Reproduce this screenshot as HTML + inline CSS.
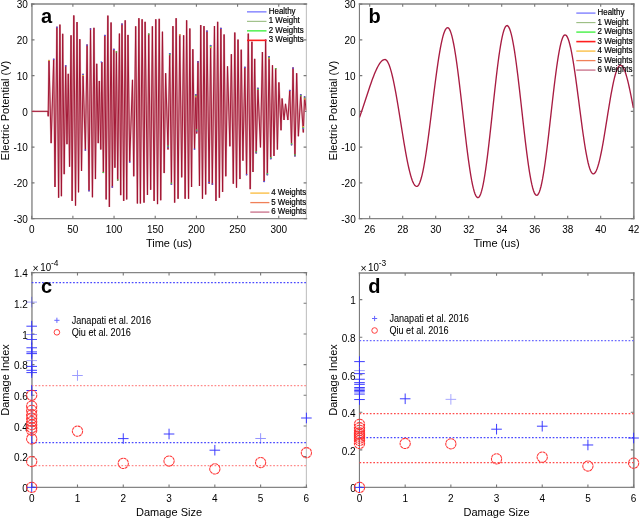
<!DOCTYPE html>
<html><head><meta charset="utf-8"><style>html,body{margin:0;padding:0;background:#fff;width:640px;height:519px;overflow:hidden}svg{display:block;will-change:transform}#w{width:640px;height:519px;}</style></head><body><div id="w">
<svg width="640" height="519" viewBox="0 0 640 519">
<style>text{font-family:"Liberation Sans", sans-serif;fill:#000} .tk{font-size:10px} .lb{font-size:11px} .pl{font-size:20px;font-weight:bold;fill:#000} .lg{font-size:7.9px;stroke:#000;stroke-width:0.18px} .lg2{font-size:9.1px;stroke:#000;stroke-width:0.05px}</style>
<rect width="640" height="519" fill="#fff"/>
<clipPath id="ca"><rect x="31.7" y="4.05" width="274.7" height="214.55"/></clipPath>
<path d="M31.95 3.25V219.3" fill="none" stroke="#9c9c9c" stroke-width="1.7"/>
<path d="M306.4 3.45V219.2" fill="none" stroke="#c4c4c4" stroke-width="1.15"/>
<path d="M30.9 4.05H307.2M30.9 218.6H307.2" fill="none" stroke="#858585" stroke-width="1.4"/>
<path d="M31.7 218.6V215.8M31.7 4.05V6.85M72.88 218.6V215.8M72.88 4.05V6.85M114.05 218.6V215.8M114.05 4.05V6.85M155.22 218.6V215.8M155.22 4.05V6.85M196.4 218.6V215.8M196.4 4.05V6.85M237.57 218.6V215.8M237.57 4.05V6.85M278.75 218.6V215.8M278.75 4.05V6.85" stroke="#777" stroke-width="1.1" fill="none"/>
<text x="31.7" y="232.6" text-anchor="middle" class="tk">0</text>
<text x="72.88" y="232.6" text-anchor="middle" class="tk">50</text>
<text x="114.05" y="232.6" text-anchor="middle" class="tk">100</text>
<text x="155.22" y="232.6" text-anchor="middle" class="tk">150</text>
<text x="196.4" y="232.6" text-anchor="middle" class="tk">200</text>
<text x="237.57" y="232.6" text-anchor="middle" class="tk">250</text>
<text x="278.75" y="232.6" text-anchor="middle" class="tk">300</text>
<path d="M31.7 4.1H34.5M306.4 4.1H303.6M31.7 39.85H34.5M306.4 39.85H303.6M31.7 75.6H34.5M306.4 75.6H303.6M31.7 111.35H34.5M306.4 111.35H303.6M31.7 147.1H34.5M306.4 147.1H303.6M31.7 182.85H34.5M306.4 182.85H303.6M31.7 218.6H34.5M306.4 218.6H303.6" stroke="#777" stroke-width="1.1" fill="none"/>
<text x="27.9" y="8.3" text-anchor="end" class="tk">30</text>
<text x="27.9" y="44.05" text-anchor="end" class="tk">20</text>
<text x="27.9" y="79.8" text-anchor="end" class="tk">10</text>
<text x="27.9" y="115.55" text-anchor="end" class="tk">0</text>
<text x="27.9" y="151.3" text-anchor="end" class="tk">-10</text>
<text x="27.9" y="187.05" text-anchor="end" class="tk">-20</text>
<text x="27.9" y="222.8" text-anchor="end" class="tk">-30</text>
<path d="M31.7 111.35 L48 111.35 L48.2 116.3 L48.99 59.94 L51.13 143.11 L53.7 58.87 L54.98 186.99 L56.91 26.76 L58.62 197.7 L59.91 24.62 L61.41 196.2 L62.69 33.82 L64.19 174.15 L65.69 65.29 L66.97 144.18 L68.26 73.85 L69.54 166.66 L71.04 35.32 L72.11 200.91 L73.82 15.41 L75.53 205.62 L77.03 22.05 L78.53 192.34 L79.82 39.17 L81.53 170.94 L83.03 73.85 L85.38 150.6 L87.09 44.53 L89.02 191.27 L90.52 28.26 L92.45 197.27 L93.94 27.83 L95.44 179.07 L96.73 63.79 L98.22 143.11 L99.3 80.92 L100.79 149.53 L101.86 62.08 L103.36 173.08 L104.86 34.89 L106.15 199.41 L107.86 15.63 L109.36 206.9 L111.07 22.48 L112.35 187.63 L113.85 48.81 L114.92 167.73 L116.42 51.38 L117.7 180.57 L119.42 33.61 L120.7 195.13 L121.99 23.55 L123.7 200.91 L125.2 20.34 L126.7 199.41 L127.98 34.89 L129.69 162.38 L132.48 79.85 L133.76 176.29 L135.69 26.33 L137.4 203.48 L138.9 18.2 L140.4 203.48 L142.11 19.27 L144.03 202.62 L145.1 21.83 L147.46 194.91 L148.74 33.61 L150.67 189.78 L152.38 26.33 L154.1 200.91 L155.81 19.27 L157.52 204.12 L159.23 18.84 L160.73 200.26 L162.44 31.68 L164.16 173.08 L165.65 73.21 L168.01 149.53 L169.72 53.09 L171.43 184.85 L172.93 26.12 L174.65 202.62 L176.14 18.2 L178.07 198.77 L179.78 34.25 L181.71 177.36 L183.64 35.32 L185.13 198.77 L186.63 20.34 L188.56 198.77 L189.84 28.47 L191.56 186.99 L192.84 49.23 L194.55 149.53 L195.84 94.19 L196.69 133.48 L197.98 61.01 L199.48 185.92 L200.76 25.05 L202.47 198.77 L203.97 26.12 L205.68 194.48 L206.97 30.61 L209.11 183.78 L210.61 44.95 L212.32 184.85 L214.46 26.12 L215.96 200.91 L217.67 21.83 L219.38 197.7 L220.88 27.83 L222.6 191.92 L224.09 34.46 L225.81 176.29 L227.52 66.36 L229.87 146.32 L231.37 54.16 L233.3 183.78 L234.8 32.54 L236.51 187.63 L238.01 39.6 L239.93 179.07 L241.22 49.66 L242.93 160.66 L244.86 66.79 L246.57 175.22 L248.28 33.61 L250.21 189.13 L251.92 41.74 L252.99 172.01 L254.7 58.87 L256.2 153.38 L257.92 87.77 L260.48 147.39 L262.41 52.02 L264.12 182.07 L265.62 39.6 L267.33 175.22 L269.05 56.08 L270.76 159.16 L272.47 65.29 L273.97 155.95 L275.68 68.07 L277.4 149.53 L278.89 82.41 L281.03 130.27 L282.1 98.47 L284.03 119.99 L285.53 103.82 L287.88 119.99 L289.81 89.91 L291.52 145.25 L293.02 67.43 L294.95 156.38 L296.66 73.21 L298.37 136.26 L300.73 94.19 L303.3 132.41 L304.58 96.33 L306.2 110.5" fill="none" stroke="#e3aeb6" stroke-width="1.9" stroke-linejoin="miter" stroke-miterlimit="4" clip-path="url(#ca)"/>
<path d="M31.7 111.35 L48 111.35 L48.2 116.3 L48.99 59.94 L51.13 143.11 L53.7 58.87 L54.98 186.99 L56.91 26.76 L58.62 197.7 L59.91 24.62 L61.41 196.2 L62.69 33.82 L64.19 174.15 L65.69 65.29 L66.97 144.18 L68.26 73.85 L69.54 166.66 L71.04 35.32 L72.11 200.91 L73.82 15.41 L75.53 205.62 L77.03 22.05 L78.53 192.34 L79.82 39.17 L81.53 170.94 L83.03 73.85 L85.38 150.6 L87.09 44.53 L89.02 191.27 L90.52 28.26 L92.45 197.27 L93.94 27.83 L95.44 179.07 L96.73 63.79 L98.22 143.11 L99.3 80.92 L100.79 149.53 L101.86 62.08 L103.36 173.08 L104.86 34.89 L106.15 199.41 L107.86 15.63 L109.36 206.9 L111.07 22.48 L112.35 187.63 L113.85 48.81 L114.92 167.73 L116.42 51.38 L117.7 180.57 L119.42 33.61 L120.7 195.13 L121.99 23.55 L123.7 200.91 L125.2 20.34 L126.7 199.41 L127.98 34.89 L129.69 162.38 L132.48 79.85 L133.76 176.29 L135.69 26.33 L137.4 203.48 L138.9 18.2 L140.4 203.48 L142.11 19.27 L144.03 202.62 L145.1 21.83 L147.46 194.91 L148.74 33.61 L150.67 189.78 L152.38 26.33 L154.1 200.91 L155.81 19.27 L157.52 204.12 L159.23 18.84 L160.73 200.26 L162.44 31.68 L164.16 173.08 L165.65 73.21 L168.01 149.53 L169.72 53.09 L171.43 184.85 L172.93 26.12 L174.65 202.62 L176.14 18.2 L178.07 198.77 L179.78 34.25 L181.71 177.36 L183.64 35.32 L185.13 198.77 L186.63 20.34 L188.56 198.77 L189.84 28.47 L191.56 186.99 L192.84 49.23 L194.55 149.53 L195.84 94.19 L196.69 133.48 L197.98 61.01 L199.48 185.92 L200.76 25.05 L202.47 198.77 L203.97 26.12 L205.68 194.48 L206.97 30.61 L209.11 183.78 L210.61 44.95 L212.32 184.85 L214.46 26.12 L215.96 200.91 L217.67 21.83 L219.38 197.7 L220.88 27.83 L222.6 191.92 L224.09 34.46 L225.81 176.29 L227.52 66.36 L229.87 146.32 L231.37 54.16 L233.3 183.78 L234.8 32.54 L236.51 187.63 L238.01 39.6 L239.93 179.07 L241.22 49.66 L242.93 160.66 L244.86 66.79 L246.57 175.22 L248.28 33.61 L250.21 189.13 L251.92 41.74 L252.99 172.01 L254.7 58.87 L256.2 153.38 L257.92 87.77 L260.48 147.39 L262.41 52.02 L264.12 182.07 L265.62 39.6 L267.33 175.22 L269.05 56.08 L270.76 159.16 L272.47 65.29 L273.97 155.95 L275.68 68.07 L277.4 149.53 L278.89 82.41 L281.03 130.27 L282.1 98.47 L284.03 119.99 L285.53 103.82 L287.88 119.99 L289.81 89.91 L291.52 145.25 L293.02 67.43 L294.95 156.38 L296.66 73.21 L298.37 136.26 L300.73 94.19 L303.3 132.41 L304.58 96.33 L306.2 110.5" fill="none" stroke="#a01230" stroke-width="0.95" stroke-linejoin="miter" stroke-miterlimit="4" clip-path="url(#ca)"/>
<rect x="169.05" y="53.1" width="1.5" height="1.1" fill="#4a5cff"/><rect x="169.05" y="54.15" width="1.5" height="1.1" fill="#3ee03e"/><rect x="82.25" y="73.9" width="1.5" height="1.1" fill="#4a5cff"/><rect x="82.25" y="74.95" width="1.5" height="1.1" fill="#e8d040"/><rect x="195.05" y="94.2" width="1.5" height="1.1" fill="#4a5cff"/><rect x="195.05" y="95.25" width="1.5" height="1.1" fill="#3ee03e"/><rect x="195.05" y="96.3" width="1.5" height="1.1" fill="#f0a040"/><rect x="209.85" y="45" width="1.5" height="1.1" fill="#4a5cff"/><rect x="209.85" y="46.05" width="1.5" height="1.1" fill="#3ee03e"/><rect x="209.85" y="47.1" width="1.5" height="1.1" fill="#f0a040"/><rect x="257.25" y="87.8" width="1.5" height="1.1" fill="#4a5cff"/><rect x="257.25" y="88.85" width="1.5" height="1.1" fill="#3ee03e"/><rect x="268.35" y="56.1" width="1.5" height="1.1" fill="#4a5cff"/><rect x="268.35" y="57.15" width="1.5" height="1.1" fill="#3ee03e"/><rect x="268.35" y="58.2" width="1.5" height="1.1" fill="#f0a040"/><rect x="300.05" y="94.2" width="1.5" height="1.1" fill="#4a5cff"/><rect x="300.05" y="95.25" width="1.5" height="1.1" fill="#3ee03e"/><rect x="303.85" y="96.4" width="1.5" height="1.1" fill="#4a5cff"/><rect x="303.85" y="97.45" width="1.5" height="1.1" fill="#3ee03e"/><rect x="303.85" y="98.5" width="1.5" height="1.1" fill="#f0a040"/><rect x="292.35" y="67.5" width="1.5" height="1.1" fill="#4a5cff"/><rect x="289.05" y="89.9" width="1.5" height="1.1" fill="#4a5cff"/><rect x="56.25" y="26.7" width="1.5" height="1.1" fill="#4a5cff"/><rect x="64.95" y="65.3" width="1.5" height="1.1" fill="#4a5cff"/><rect x="89.75" y="28.4" width="1.5" height="1.1" fill="#4a5cff"/><rect x="104.15" y="34.9" width="1.5" height="1.1" fill="#4a5cff"/><rect x="121.25" y="23.6" width="1.5" height="1.1" fill="#4a5cff"/><rect x="100.55" y="61.4" width="1.5" height="1.1" fill="#4a5cff"/><rect x="86.15" y="44.6" width="1.5" height="1.1" fill="#4a5cff"/><rect x="48.25" y="59.9" width="1.5" height="1.1" fill="#e8d040"/><rect x="53" y="58.6" width="1.5" height="1.1" fill="#4a5cff"/><rect x="113.15" y="48.8" width="1.5" height="1.1" fill="#4a5cff"/><rect x="115.65" y="51.4" width="1.5" height="1.1" fill="#3ee03e"/><rect x="148.05" y="33.6" width="1.5" height="1.1" fill="#3ee03e"/><rect x="179.05" y="34.3" width="1.5" height="1.1" fill="#e8d040"/><rect x="197.25" y="61.4" width="1.5" height="1.1" fill="#4a5cff"/><rect x="206.25" y="30.6" width="1.5" height="1.1" fill="#4a5cff"/><rect x="220.25" y="27.9" width="1.5" height="1.1" fill="#4a5cff"/><rect x="244.15" y="66.8" width="1.5" height="1.1" fill="#4a5cff"/><rect x="264.85" y="39.6" width="1.5" height="1.1" fill="#4a5cff"/><rect x="274.95" y="68.1" width="1.5" height="1.1" fill="#3ee03e"/><rect x="167.25" y="146.5" width="1.5" height="1.1" fill="#4a5cff"/><rect x="167.25" y="145.45" width="1.5" height="1.1" fill="#3ee03e"/><rect x="170.65" y="183.7" width="1.5" height="1.1" fill="#4a5cff"/><rect x="170.65" y="182.65" width="1.5" height="1.1" fill="#3ee03e"/><rect x="84.65" y="149.5" width="1.5" height="1.1" fill="#4a5cff"/><rect x="196.05" y="130.4" width="1.5" height="1.1" fill="#4a5cff"/><rect x="196.05" y="129.35" width="1.5" height="1.1" fill="#3ee03e"/><rect x="193.75" y="148.6" width="1.5" height="1.1" fill="#4a5cff"/><rect x="302.55" y="128.1" width="1.5" height="1.1" fill="#4a5cff"/><rect x="302.55" y="127.05" width="1.5" height="1.1" fill="#3ee03e"/><rect x="302.55" y="126" width="1.5" height="1.1" fill="#f0a040"/><rect x="290.85" y="144.2" width="1.5" height="1.1" fill="#4a5cff"/><rect x="290.85" y="143.15" width="1.5" height="1.1" fill="#3ee03e"/><rect x="294.25" y="155.3" width="1.5" height="1.1" fill="#4a5cff"/><rect x="294.25" y="154.25" width="1.5" height="1.1" fill="#3ee03e"/><rect x="270.05" y="158.1" width="1.5" height="1.1" fill="#4a5cff"/><rect x="270.05" y="157.05" width="1.5" height="1.1" fill="#3ee03e"/><rect x="266.65" y="174.1" width="1.5" height="1.1" fill="#4a5cff"/><rect x="266.65" y="173.05" width="1.5" height="1.1" fill="#3ee03e"/><rect x="255.45" y="152.3" width="1.5" height="1.1" fill="#4a5cff"/><rect x="255.45" y="151.25" width="1.5" height="1.1" fill="#3ee03e"/><rect x="263.45" y="181" width="1.5" height="1.1" fill="#4a5cff"/><rect x="88.25" y="190.2" width="1.5" height="1.1" fill="#4a5cff"/><rect x="102.55" y="171.9" width="1.5" height="1.1" fill="#3ee03e"/><rect x="111.55" y="186.4" width="1.5" height="1.1" fill="#4a5cff"/><rect x="117.05" y="179.3" width="1.5" height="1.1" fill="#3ee03e"/><rect x="129.05" y="161.5" width="1.5" height="1.1" fill="#4a5cff"/><rect x="208.15" y="181.9" width="1.5" height="1.1" fill="#4a5cff"/><rect x="211.75" y="183.5" width="1.5" height="1.1" fill="#4a5cff"/><rect x="245.85" y="174.1" width="1.5" height="1.1" fill="#4a5cff"/>
<text x="168.9" y="247.2" text-anchor="middle" class="lb">Time (us)</text>
<text transform="translate(9.4 110.6) rotate(-90)" text-anchor="middle" class="lb">Electric Potential (V)</text>
<text x="40.9" y="23.4" class="pl">a</text>
<line x1="247" y1="11.85" x2="266.5" y2="11.85" stroke="#8080ff" stroke-width="1.4"/>
<text transform="translate(268.8 13.9) scale(1 1.17)" class="lg">Healthy</text>
<line x1="247" y1="21.35" x2="266.5" y2="21.35" stroke="#98bc80" stroke-width="1.1"/>
<text transform="translate(268.8 23.3) scale(1 1.17)" class="lg">1 Weight</text>
<line x1="247" y1="30.85" x2="266.5" y2="30.85" stroke="#44f044" stroke-width="1.4"/>
<text transform="translate(268.8 32.7) scale(1 1.17)" class="lg">2 Weights</text>
<line x1="247" y1="40.35" x2="266.5" y2="40.35" stroke="#ff1e1e" stroke-width="1.6"/>
<text transform="translate(268.8 42.1) scale(1 1.17)" class="lg">3 Weights</text>
<line x1="250.3" y1="193.1" x2="269.4" y2="193.1" stroke="#fbc048" stroke-width="1.4"/>
<text transform="translate(271.3 195.3) scale(1 1.17)" class="lg">4 Weights</text>
<line x1="250.3" y1="202.6" x2="269.4" y2="202.6" stroke="#f08058" stroke-width="1.3"/>
<text transform="translate(271.3 204.8) scale(1 1.17)" class="lg">5 Weights</text>
<line x1="250.3" y1="212.1" x2="269.4" y2="212.1" stroke="#cc7890" stroke-width="1.4"/>
<text transform="translate(271.3 214.3) scale(1 1.17)" class="lg">6 Weights</text>
<clipPath id="cb"><rect x="359.5" y="4.05" width="274.1" height="214.55"/></clipPath>
<path d="M359.45 3.45V219.2" fill="none" stroke="#7c7c7c" stroke-width="1.15"/>
<path d="M633.8 3.25V219.3" fill="none" stroke="#8c8c8c" stroke-width="1.7"/>
<path d="M358.7 4.05H634.4M358.7 218.6H634.4" fill="none" stroke="#858585" stroke-width="1.4"/>
<path d="M369.7 218.6V215.8M369.7 4.05V6.85M402.7 218.6V215.8M402.7 4.05V6.85M435.7 218.6V215.8M435.7 4.05V6.85M468.7 218.6V215.8M468.7 4.05V6.85M501.7 218.6V215.8M501.7 4.05V6.85M534.7 218.6V215.8M534.7 4.05V6.85M567.7 218.6V215.8M567.7 4.05V6.85M600.7 218.6V215.8M600.7 4.05V6.85M633.7 218.6V215.8M633.7 4.05V6.85" stroke="#777" stroke-width="1.1" fill="none"/>
<text x="369.7" y="232.6" text-anchor="middle" class="tk">26</text>
<text x="402.7" y="232.6" text-anchor="middle" class="tk">28</text>
<text x="435.7" y="232.6" text-anchor="middle" class="tk">30</text>
<text x="468.7" y="232.6" text-anchor="middle" class="tk">32</text>
<text x="501.7" y="232.6" text-anchor="middle" class="tk">34</text>
<text x="534.7" y="232.6" text-anchor="middle" class="tk">36</text>
<text x="567.7" y="232.6" text-anchor="middle" class="tk">38</text>
<text x="600.7" y="232.6" text-anchor="middle" class="tk">40</text>
<text x="633.7" y="232.6" text-anchor="middle" class="tk">42</text>
<path d="M359.5 4.1H362.3M633.6 4.1H630.8M359.5 39.85H362.3M633.6 39.85H630.8M359.5 75.6H362.3M633.6 75.6H630.8M359.5 111.35H362.3M633.6 111.35H630.8M359.5 147.1H362.3M633.6 147.1H630.8M359.5 182.85H362.3M633.6 182.85H630.8M359.5 218.6H362.3M633.6 218.6H630.8" stroke="#777" stroke-width="1.1" fill="none"/>
<text x="355.7" y="8.3" text-anchor="end" class="tk">30</text>
<text x="355.7" y="44.05" text-anchor="end" class="tk">20</text>
<text x="355.7" y="79.8" text-anchor="end" class="tk">10</text>
<text x="355.7" y="115.55" text-anchor="end" class="tk">0</text>
<text x="355.7" y="151.3" text-anchor="end" class="tk">-10</text>
<text x="355.7" y="187.05" text-anchor="end" class="tk">-20</text>
<text x="355.7" y="222.8" text-anchor="end" class="tk">-30</text>
<path d="M359.47 117.43 L360.29 115.17 L361.12 112.85 L361.94 110.47 L362.77 108.04 L363.6 105.57 L364.42 103.07 L365.25 100.55 L366.07 98.02 L366.9 95.49 L367.72 92.97 L368.55 90.47 L369.37 87.99 L370.2 85.56 L371.02 83.18 L371.85 80.85 L372.67 78.59 L373.5 76.41 L374.32 74.32 L375.15 72.32 L375.97 70.43 L376.8 68.66 L377.62 67.01 L378.45 65.5 L379.27 64.14 L380.1 62.94 L380.92 61.89 L381.75 61.03 L382.57 60.35 L383.4 59.86 L384.22 59.58 L385.05 59.52 L385.87 59.81 L386.7 60.53 L387.52 61.65 L388.35 63.18 L389.17 65.11 L390 67.42 L390.82 70.1 L391.65 73.13 L392.47 76.49 L393.3 80.15 L394.12 84.1 L394.95 88.31 L395.77 92.74 L396.6 97.38 L397.42 102.18 L398.25 107.13 L399.07 112.18 L399.9 117.3 L400.72 122.45 L401.55 127.61 L402.37 132.74 L403.2 137.81 L404.02 142.77 L404.85 147.61 L405.67 152.28 L406.5 156.76 L407.32 161.02 L408.15 165.02 L408.97 168.74 L409.8 172.16 L410.62 175.26 L411.45 178.01 L412.27 180.39 L413.1 182.4 L413.92 184.01 L414.75 185.22 L415.57 186.01 L416.4 186.39 L417.22 186.32 L418.05 185.71 L418.87 184.54 L419.7 182.82 L420.52 180.57 L421.35 177.8 L422.17 174.54 L423 170.79 L423.82 166.6 L424.65 161.99 L425.47 156.99 L426.3 151.64 L427.12 145.97 L427.95 140.03 L428.77 133.86 L429.6 127.49 L430.42 120.99 L431.25 114.38 L432.07 107.73 L432.9 101.07 L433.72 94.45 L434.55 87.92 L435.37 81.52 L436.2 75.31 L437.02 69.32 L437.85 63.59 L438.67 58.17 L439.5 53.1 L440.32 48.41 L441.15 44.13 L441.97 40.29 L442.8 36.93 L443.62 34.06 L444.45 31.7 L445.27 29.88 L446.1 28.6 L446.92 27.87 L447.75 27.71 L448.57 28.14 L449.4 29.19 L450.22 30.85 L451.05 33.1 L451.87 35.93 L452.7 39.33 L453.52 43.25 L454.35 47.68 L455.17 52.59 L456 57.93 L456.82 63.68 L457.65 69.77 L458.47 76.19 L459.3 82.86 L460.12 89.76 L460.95 96.82 L461.77 104 L462.6 111.24 L463.42 118.49 L464.25 125.7 L465.07 132.81 L465.9 139.78 L466.72 146.55 L467.55 153.08 L468.37 159.31 L469.2 165.2 L470.02 170.7 L470.85 175.79 L471.67 180.42 L472.5 184.55 L473.32 188.16 L474.15 191.22 L474.97 193.7 L475.8 195.6 L476.62 196.89 L477.45 197.57 L478.27 197.63 L479.1 197.02 L479.92 195.72 L480.75 193.75 L481.57 191.13 L482.4 187.88 L483.22 184.02 L484.05 179.59 L484.87 174.61 L485.7 169.13 L486.52 163.2 L487.35 156.85 L488.17 150.14 L489 143.13 L489.82 135.87 L490.65 128.41 L491.47 120.82 L492.3 113.15 L493.12 105.48 L493.95 97.85 L494.77 90.33 L495.6 82.98 L496.42 75.86 L497.24 69.03 L498.07 62.53 L498.89 56.43 L499.72 50.76 L500.54 45.58 L501.37 40.92 L502.19 36.83 L503.02 33.33 L503.84 30.45 L504.67 28.22 L505.49 26.66 L506.32 25.77 L507.14 25.56 L507.97 26.02 L508.79 27.11 L509.62 28.84 L510.44 31.19 L511.27 34.14 L512.09 37.68 L512.92 41.77 L513.74 46.38 L514.57 51.48 L515.39 57.02 L516.22 62.98 L517.04 69.29 L517.87 75.92 L518.69 82.81 L519.52 89.92 L520.34 97.17 L521.17 104.53 L521.99 111.94 L522.82 119.33 L523.64 126.66 L524.47 133.86 L525.29 140.88 L526.12 147.68 L526.94 154.19 L527.77 160.36 L528.59 166.16 L529.42 171.53 L530.24 176.44 L531.07 180.85 L531.89 184.72 L532.72 188.02 L533.54 190.74 L534.37 192.84 L535.19 194.32 L536.02 195.16 L536.84 195.35 L537.67 194.88 L538.49 193.75 L539.32 191.96 L540.14 189.53 L540.97 186.48 L541.79 182.84 L542.62 178.63 L543.44 173.89 L544.27 168.66 L545.09 162.99 L545.92 156.91 L546.74 150.49 L547.57 143.77 L548.39 136.82 L549.22 129.68 L550.04 122.42 L550.87 115.1 L551.69 107.78 L552.52 100.53 L553.34 93.39 L554.17 86.43 L554.99 79.72 L555.82 73.29 L556.64 67.22 L557.47 61.55 L558.29 56.32 L559.12 51.58 L559.94 47.37 L560.77 43.73 L561.59 40.68 L562.42 38.25 L563.24 36.46 L564.07 35.33 L564.89 34.86 L565.72 35.03 L566.54 35.79 L567.37 37.13 L568.19 39.04 L569.02 41.5 L569.84 44.48 L570.67 47.97 L571.49 51.94 L572.32 56.35 L573.14 61.17 L573.97 66.35 L574.79 71.85 L575.62 77.62 L576.44 83.62 L577.27 89.8 L578.09 96.09 L578.92 102.46 L579.74 108.85 L580.57 115.19 L581.39 121.45 L582.22 127.56 L583.04 133.48 L583.87 139.15 L584.69 144.52 L585.52 149.56 L586.34 154.22 L587.17 158.46 L587.99 162.24 L588.82 165.53 L589.64 168.31 L590.47 170.55 L591.29 172.23 L592.12 173.34 L592.94 173.87 L593.77 173.82 L594.59 173.28 L595.42 172.26 L596.24 170.75 L597.07 168.78 L597.89 166.37 L598.72 163.53 L599.54 160.3 L600.37 156.7 L601.19 152.76 L602.02 148.51 L602.84 144.01 L603.67 139.29 L604.49 134.38 L605.32 129.35 L606.14 124.22 L606.97 119.06 L607.79 113.89 L608.62 108.78 L609.44 103.77 L610.27 98.9 L611.09 94.21 L611.92 89.76 L612.74 85.58 L613.57 81.7 L614.39 78.17 L615.22 75.01 L616.04 72.26 L616.87 69.93 L617.69 68.05 L618.52 66.64 L619.34 65.71 L620.17 65.27 L620.99 65.31 L621.82 65.78 L622.64 66.67 L623.47 67.98 L624.29 69.69 L625.12 71.79 L625.94 74.25 L626.77 77.06 L627.59 80.18 L628.42 83.58 L629.24 87.24 L630.07 91.11 L630.89 95.16 L631.72 99.35 L632.54 103.64 L633.37 107.99" fill="none" stroke="#a81c42" stroke-width="1.35" clip-path="url(#cb)"/>
<text x="496.6" y="247.2" text-anchor="middle" class="lb">Time (us)</text>
<text transform="translate(337.3 110.6) rotate(-90)" text-anchor="middle" class="lb">Electric Potential (V)</text>
<text x="368.4" y="23.4" class="pl">b</text>
<line x1="576.3" y1="13.1" x2="595.5" y2="13.1" stroke="#8080ff" stroke-width="1.4"/>
<text transform="translate(597.6 15.4) scale(1 1.17)" class="lg">Healthy</text>
<line x1="576.3" y1="22.6" x2="595.5" y2="22.6" stroke="#98bc80" stroke-width="1.1"/>
<text transform="translate(597.6 24.9) scale(1 1.17)" class="lg">1 Weight</text>
<line x1="576.3" y1="32.1" x2="595.5" y2="32.1" stroke="#44f044" stroke-width="1.4"/>
<text transform="translate(597.6 34.4) scale(1 1.17)" class="lg">2 Weights</text>
<line x1="576.3" y1="41.6" x2="595.5" y2="41.6" stroke="#ff1e1e" stroke-width="1.6"/>
<text transform="translate(597.6 43.9) scale(1 1.17)" class="lg">3 Weights</text>
<line x1="576.3" y1="51.1" x2="595.5" y2="51.1" stroke="#fbc048" stroke-width="1.4"/>
<text transform="translate(597.6 53.4) scale(1 1.17)" class="lg">4 Weights</text>
<line x1="576.3" y1="60.6" x2="595.5" y2="60.6" stroke="#f08058" stroke-width="1.3"/>
<text transform="translate(597.6 62.9) scale(1 1.17)" class="lg">5 Weights</text>
<line x1="576.3" y1="70.1" x2="595.5" y2="70.1" stroke="#cc7890" stroke-width="1.4"/>
<text transform="translate(597.6 72.4) scale(1 1.17)" class="lg">6 Weights</text>
<clipPath id="cc"><rect x="31.7" y="272.6" width="274.7" height="214.75"/></clipPath>
<path d="M31.95 271.8V488.05" fill="none" stroke="#9c9c9c" stroke-width="1.7"/>
<path d="M306.4 272V487.95" fill="none" stroke="#c4c4c4" stroke-width="1.15"/>
<path d="M30.9 272.6H307.2M30.9 487.35H307.2" fill="none" stroke="#858585" stroke-width="1.4"/>
<path d="M31.7 487.35V484.55M31.7 272.6V275.4M77.48 487.35V484.55M77.48 272.6V275.4M123.27 487.35V484.55M123.27 272.6V275.4M169.05 487.35V484.55M169.05 272.6V275.4M214.83 487.35V484.55M214.83 272.6V275.4M260.62 487.35V484.55M260.62 272.6V275.4M306.4 487.35V484.55M306.4 272.6V275.4" stroke="#777" stroke-width="1.1" fill="none"/>
<text x="31.7" y="502.2" text-anchor="middle" class="tk">0</text>
<text x="77.48" y="502.2" text-anchor="middle" class="tk">1</text>
<text x="123.27" y="502.2" text-anchor="middle" class="tk">2</text>
<text x="169.05" y="502.2" text-anchor="middle" class="tk">3</text>
<text x="214.83" y="502.2" text-anchor="middle" class="tk">4</text>
<text x="260.62" y="502.2" text-anchor="middle" class="tk">5</text>
<text x="306.4" y="502.2" text-anchor="middle" class="tk">6</text>
<path d="M31.7 487.35H34.5M306.4 487.35H303.6M31.7 456.67H34.5M306.4 456.67H303.6M31.7 425.99H34.5M306.4 425.99H303.6M31.7 395.31H34.5M306.4 395.31H303.6M31.7 364.64H34.5M306.4 364.64H303.6M31.7 333.96H34.5M306.4 333.96H303.6M31.7 303.28H34.5M306.4 303.28H303.6M31.7 272.6H34.5M306.4 272.6H303.6" stroke="#777" stroke-width="1.1" fill="none"/>
<text x="27.9" y="492.15" text-anchor="end" class="tk">0</text>
<text x="27.9" y="461.47" text-anchor="end" class="tk">0.2</text>
<text x="27.9" y="430.79" text-anchor="end" class="tk">0.4</text>
<text x="27.9" y="400.11" text-anchor="end" class="tk">0.6</text>
<text x="27.9" y="369.44" text-anchor="end" class="tk">0.8</text>
<text x="27.9" y="338.76" text-anchor="end" class="tk">1</text>
<text x="27.9" y="308.08" text-anchor="end" class="tk">1.2</text>
<text x="27.9" y="277.4" text-anchor="end" class="tk">1.4</text>
<g>
<line x1="31.7" y1="282.5" x2="306.4" y2="282.5" stroke="#4848ff" stroke-width="1.25" stroke-dasharray="1.7 1.75"/>
<line x1="31.7" y1="385.5" x2="306.4" y2="385.5" stroke="#ff8a8a" stroke-width="1.25" stroke-dasharray="1.7 1.75"/>
<line x1="31.7" y1="442.5" x2="306.4" y2="442.5" stroke="#4848ff" stroke-width="1.25" stroke-dasharray="1.7 1.75"/>
<line x1="31.7" y1="465.5" x2="306.4" y2="465.5" stroke="#ff8a8a" stroke-width="1.25" stroke-dasharray="1.7 1.75"/>
<path d="M26.4 302.1H37M31.7 296.8V307.4" stroke="#3333ff" stroke-width="0.95" opacity="0.45"/>
<path d="M26.4 326.2H37M31.7 320.9V331.5" stroke="#3333ff" stroke-width="0.95" opacity="1"/>
<path d="M26.4 334.49H37M31.7 329.19V339.79" stroke="#3333ff" stroke-width="0.95" opacity="0.55"/>
<path d="M26.4 339.49H37M31.7 334.19V344.79" stroke="#3333ff" stroke-width="0.95" opacity="0.9"/>
<path d="M26.4 347.79H37M31.7 342.49V353.09" stroke="#3333ff" stroke-width="0.95" opacity="1"/>
<path d="M26.4 351.9H37M31.7 346.6V357.2" stroke="#3333ff" stroke-width="0.95" opacity="1"/>
<path d="M26.4 353.61H37M31.7 348.31V358.91" stroke="#3333ff" stroke-width="0.95" opacity="1"/>
<path d="M26.4 360.6H37M31.7 355.3V365.9" stroke="#3333ff" stroke-width="0.95" opacity="0.45"/>
<path d="M26.4 366.4H37M31.7 361.1V371.7" stroke="#3333ff" stroke-width="0.95" opacity="1"/>
<path d="M26.4 370.3H37M31.7 365V375.6" stroke="#3333ff" stroke-width="0.95" opacity="1"/>
<path d="M26.4 372.6H37M31.7 367.3V377.9" stroke="#3333ff" stroke-width="0.95" opacity="1"/>
<path d="M26.4 390.5H37M31.7 385.2V395.8" stroke="#3333ff" stroke-width="0.95" opacity="1"/>
<path d="M26.4 487.35H37M31.7 482.05V492.65" stroke="#3333ff" stroke-width="0.95" opacity="1"/>
<path d="M72.18 375.5H82.78M77.48 370.2V380.8" stroke="#3333ff" stroke-width="0.95" opacity="0.5"/>
<path d="M117.97 438.6H128.57M123.27 433.3V443.9" stroke="#3333ff" stroke-width="0.95" opacity="1"/>
<path d="M163.75 434H174.35M169.05 428.7V439.3" stroke="#3333ff" stroke-width="0.95" opacity="1"/>
<path d="M209.53 450.2H220.13M214.83 444.9V455.5" stroke="#3333ff" stroke-width="0.95" opacity="1"/>
<path d="M255.32 438.49H265.92M260.62 433.19V443.79" stroke="#3333ff" stroke-width="0.95" opacity="0.55"/>
<path d="M301.1 418H311.7M306.4 412.7V423.3" stroke="#3333ff" stroke-width="0.95" opacity="1"/>
<line x1="31.7" y1="385" x2="31.7" y2="432" stroke="#3333ff" stroke-width="1" opacity="0.35"/>
<line x1="31.7" y1="432" x2="31.7" y2="444" stroke="#3333ff" stroke-width="1" opacity="0.9"/>
<circle cx="31.7" cy="395.25" r="5.1" fill="none" stroke="#ff2a2a" stroke-width="1.05" stroke-dasharray="2.9 0.5" opacity="0.95"/>
<circle cx="31.7" cy="406.01" r="5.1" fill="none" stroke="#ff2a2a" stroke-width="1.05" stroke-dasharray="2.9 0.5" opacity="0.95"/>
<circle cx="31.7" cy="410.3" r="5.1" fill="none" stroke="#ff2a2a" stroke-width="1.05" stroke-dasharray="2.9 0.5" opacity="0.95"/>
<circle cx="31.7" cy="414.7" r="5.1" fill="none" stroke="#ff2a2a" stroke-width="1.05" stroke-dasharray="2.9 0.5" opacity="0.95"/>
<circle cx="31.7" cy="418.09" r="5.1" fill="none" stroke="#ff2a2a" stroke-width="1.05" stroke-dasharray="2.9 0.5" opacity="0.95"/>
<circle cx="31.7" cy="421.61" r="5.1" fill="none" stroke="#ff2a2a" stroke-width="1.05" stroke-dasharray="2.9 0.5" opacity="0.95"/>
<circle cx="31.7" cy="424.7" r="5.1" fill="none" stroke="#ff2a2a" stroke-width="1.05" stroke-dasharray="2.9 0.5" opacity="0.95"/>
<circle cx="31.7" cy="427.7" r="5.1" fill="none" stroke="#ff2a2a" stroke-width="1.05" stroke-dasharray="2.9 0.5" opacity="0.95"/>
<circle cx="31.7" cy="430.3" r="5.1" fill="none" stroke="#ff2a2a" stroke-width="1.05" stroke-dasharray="2.9 0.5" opacity="0.95"/>
<circle cx="31.7" cy="438.89" r="5.1" fill="none" stroke="#ff2a2a" stroke-width="1.05" stroke-dasharray="2.9 0.5" opacity="0.95"/>
<circle cx="31.7" cy="461.5" r="5.1" fill="none" stroke="#ff2a2a" stroke-width="1.05" stroke-dasharray="2.9 0.5" opacity="0.95"/>
<circle cx="31.7" cy="487.35" r="5.1" fill="none" stroke="#ff2a2a" stroke-width="1.05" stroke-dasharray="2.9 0.5" opacity="0.95"/>
<circle cx="77.48" cy="431.19" r="5.1" fill="none" stroke="#ff2a2a" stroke-width="1.05" stroke-dasharray="2.9 0.5" opacity="0.95"/>
<circle cx="123.27" cy="463.41" r="5.1" fill="none" stroke="#ff2a2a" stroke-width="1.05" stroke-dasharray="2.9 0.5" opacity="0.95"/>
<circle cx="169.05" cy="461" r="5.1" fill="none" stroke="#ff2a2a" stroke-width="1.05" stroke-dasharray="2.9 0.5" opacity="0.95"/>
<circle cx="214.83" cy="468.9" r="5.1" fill="none" stroke="#ff2a2a" stroke-width="1.05" stroke-dasharray="2.9 0.5" opacity="0.95"/>
<circle cx="260.62" cy="462.59" r="5.1" fill="none" stroke="#ff2a2a" stroke-width="1.05" stroke-dasharray="2.9 0.5" opacity="0.95"/>
<circle cx="306.4" cy="452.7" r="5.1" fill="none" stroke="#ff2a2a" stroke-width="1.05" stroke-dasharray="2.9 0.5" opacity="0.95"/>
</g>
<text x="169.05" y="516.4" text-anchor="middle" class="lb">Damage Size</text>
<text transform="translate(9.1 380) rotate(-90)" text-anchor="middle" class="lb">Damage Index</text>
<text x="32.6" y="272.1" style="font-size:10.4px">&#215;</text>
<text transform="translate(40.3 270.8) scale(0.94 1)" style="font-size:10.4px">10</text>
<text x="50.9" y="265.9" style="font-size:8.4px">-4</text>
<path d="M54.3 320.3H59.5M56.9 317.7V322.9" stroke="#3333ff" stroke-width="1" opacity="0.75"/>
<circle cx="56.9" cy="332.3" r="2.8" fill="none" stroke="#ff2a2a" stroke-width="0.9"/>
<text transform="translate(71.7 323.6) scale(1 1.14)" class="lg2">Janapati et al. 2016</text>
<text transform="translate(71.7 335.6) scale(1 1.14)" class="lg2">Qiu et al. 2016</text>
<text x="41.1" y="292.6" class="pl">c</text>
<clipPath id="cd"><rect x="359.5" y="273" width="274.1" height="214.4"/></clipPath>
<path d="M359.45 272.4V488" fill="none" stroke="#7c7c7c" stroke-width="1.15"/>
<path d="M633.8 272.2V488.1" fill="none" stroke="#8c8c8c" stroke-width="1.7"/>
<path d="M358.7 273H634.4M358.7 487.4H634.4" fill="none" stroke="#858585" stroke-width="1.4"/>
<path d="M359.5 487.4V484.6M359.5 273V275.8M405.18 487.4V484.6M405.18 273V275.8M450.87 487.4V484.6M450.87 273V275.8M496.55 487.4V484.6M496.55 273V275.8M542.23 487.4V484.6M542.23 273V275.8M587.92 487.4V484.6M587.92 273V275.8M633.6 487.4V484.6M633.6 273V275.8" stroke="#777" stroke-width="1.1" fill="none"/>
<text x="359.5" y="502.2" text-anchor="middle" class="tk">0</text>
<text x="405.18" y="502.2" text-anchor="middle" class="tk">1</text>
<text x="450.87" y="502.2" text-anchor="middle" class="tk">2</text>
<text x="496.55" y="502.2" text-anchor="middle" class="tk">3</text>
<text x="542.23" y="502.2" text-anchor="middle" class="tk">4</text>
<text x="587.92" y="502.2" text-anchor="middle" class="tk">5</text>
<text x="633.6" y="502.2" text-anchor="middle" class="tk">6</text>
<path d="M359.5 487.4H362.3M633.6 487.4H630.8M359.5 449.85H362.3M633.6 449.85H630.8M359.5 412.3H362.3M633.6 412.3H630.8M359.5 374.76H362.3M633.6 374.76H630.8M359.5 337.21H362.3M633.6 337.21H630.8M359.5 299.66H362.3M633.6 299.66H630.8" stroke="#777" stroke-width="1.1" fill="none"/>
<text x="355.7" y="492.2" text-anchor="end" class="tk">0</text>
<text x="355.7" y="454.65" text-anchor="end" class="tk">0.2</text>
<text x="355.7" y="417.1" text-anchor="end" class="tk">0.4</text>
<text x="355.7" y="379.56" text-anchor="end" class="tk">0.6</text>
<text x="355.7" y="342.01" text-anchor="end" class="tk">0.8</text>
<text x="355.7" y="304.46" text-anchor="end" class="tk">1</text>
<g>
<line x1="359.5" y1="340.5" x2="633.6" y2="340.5" stroke="#6a6aff" stroke-width="1.25" stroke-dasharray="1.7 1.75"/>
<line x1="359.5" y1="413.5" x2="633.6" y2="413.5" stroke="#ff4a4a" stroke-width="1.25" stroke-dasharray="1.7 1.75"/>
<line x1="359.5" y1="437.5" x2="633.6" y2="437.5" stroke="#4848ff" stroke-width="1.25" stroke-dasharray="1.7 1.75"/>
<line x1="359.5" y1="462.5" x2="633.6" y2="462.5" stroke="#ff4a4a" stroke-width="1.25" stroke-dasharray="1.7 1.75"/>
<path d="M354.2 361.61H364.8M359.5 356.31V366.91" stroke="#3333ff" stroke-width="0.95" opacity="1"/>
<path d="M354.2 370.63H364.8M359.5 365.33V375.93" stroke="#3333ff" stroke-width="0.95" opacity="0.5"/>
<path d="M354.2 373.63H364.8M359.5 368.33V378.93" stroke="#3333ff" stroke-width="0.95" opacity="1"/>
<path d="M354.2 379.26H364.8M359.5 373.96V384.56" stroke="#3333ff" stroke-width="0.95" opacity="1"/>
<path d="M354.2 382.64H364.8M359.5 377.34V387.94" stroke="#3333ff" stroke-width="0.95" opacity="1"/>
<path d="M354.2 384.33H364.8M359.5 379.03V389.63" stroke="#3333ff" stroke-width="0.95" opacity="1"/>
<path d="M354.2 387.52H364.8M359.5 382.22V392.82" stroke="#3333ff" stroke-width="0.95" opacity="1"/>
<path d="M354.2 389.02H364.8M359.5 383.72V394.32" stroke="#3333ff" stroke-width="0.95" opacity="1"/>
<path d="M354.2 390.53H364.8M359.5 385.23V395.83" stroke="#3333ff" stroke-width="0.95" opacity="1"/>
<path d="M354.2 391.84H364.8M359.5 386.54V397.14" stroke="#3333ff" stroke-width="0.95" opacity="1"/>
<path d="M354.2 394.09H364.8M359.5 388.79V399.39" stroke="#3333ff" stroke-width="0.95" opacity="1"/>
<path d="M354.2 399.54H364.8M359.5 394.24V404.84" stroke="#3333ff" stroke-width="0.95" opacity="1"/>
<path d="M354.2 487.4H364.8M359.5 482.1V492.7" stroke="#3333ff" stroke-width="0.95" opacity="1"/>
<path d="M399.88 398.79H410.48M405.18 393.49V404.09" stroke="#3333ff" stroke-width="0.95" opacity="1"/>
<path d="M445.57 399.35H456.17M450.87 394.05V404.65" stroke="#3333ff" stroke-width="0.95" opacity="0.45"/>
<path d="M491.25 429.2H501.85M496.55 423.9V434.5" stroke="#3333ff" stroke-width="0.95" opacity="1"/>
<path d="M536.93 426.2H547.53M542.23 420.9V431.5" stroke="#3333ff" stroke-width="0.95" opacity="1"/>
<path d="M582.62 444.97H593.22M587.92 439.67V450.27" stroke="#3333ff" stroke-width="0.95" opacity="1"/>
<path d="M628.3 438.02H638.9M633.6 432.72V443.32" stroke="#3333ff" stroke-width="0.95" opacity="1"/>
<circle cx="359.5" cy="424.32" r="5.1" fill="none" stroke="#ff2a2a" stroke-width="1.05" stroke-dasharray="2.9 0.5" opacity="0.95"/>
<circle cx="359.5" cy="427.7" r="5.1" fill="none" stroke="#ff2a2a" stroke-width="1.05" stroke-dasharray="2.9 0.5" opacity="0.95"/>
<circle cx="359.5" cy="430.33" r="5.1" fill="none" stroke="#ff2a2a" stroke-width="1.05" stroke-dasharray="2.9 0.5" opacity="0.95"/>
<circle cx="359.5" cy="432.96" r="5.1" fill="none" stroke="#ff2a2a" stroke-width="1.05" stroke-dasharray="2.9 0.5" opacity="0.95"/>
<circle cx="359.5" cy="434.64" r="5.1" fill="none" stroke="#ff2a2a" stroke-width="1.05" stroke-dasharray="2.9 0.5" opacity="0.95"/>
<circle cx="359.5" cy="436.33" r="5.1" fill="none" stroke="#ff2a2a" stroke-width="1.05" stroke-dasharray="2.9 0.5" opacity="0.95"/>
<circle cx="359.5" cy="438.21" r="5.1" fill="none" stroke="#ff2a2a" stroke-width="1.05" stroke-dasharray="2.9 0.5" opacity="0.95"/>
<circle cx="359.5" cy="440.46" r="5.1" fill="none" stroke="#ff2a2a" stroke-width="1.05" stroke-dasharray="2.9 0.5" opacity="0.95"/>
<circle cx="359.5" cy="443.47" r="5.1" fill="none" stroke="#ff2a2a" stroke-width="1.05" stroke-dasharray="2.9 0.5" opacity="0.95"/>
<circle cx="359.5" cy="487.4" r="5.1" fill="none" stroke="#ff2a2a" stroke-width="1.05" stroke-dasharray="2.9 0.5" opacity="0.95"/>
<circle cx="405.18" cy="443.47" r="5.1" fill="none" stroke="#ff2a2a" stroke-width="1.05" stroke-dasharray="2.9 0.5" opacity="0.95"/>
<circle cx="450.87" cy="443.84" r="5.1" fill="none" stroke="#ff2a2a" stroke-width="1.05" stroke-dasharray="2.9 0.5" opacity="0.95"/>
<circle cx="496.55" cy="458.86" r="5.1" fill="none" stroke="#ff2a2a" stroke-width="1.05" stroke-dasharray="2.9 0.5" opacity="0.95"/>
<circle cx="542.23" cy="457.17" r="5.1" fill="none" stroke="#ff2a2a" stroke-width="1.05" stroke-dasharray="2.9 0.5" opacity="0.95"/>
<circle cx="587.92" cy="466" r="5.1" fill="none" stroke="#ff2a2a" stroke-width="1.05" stroke-dasharray="2.9 0.5" opacity="0.95"/>
<circle cx="633.6" cy="463.18" r="5.1" fill="none" stroke="#ff2a2a" stroke-width="1.05" stroke-dasharray="2.9 0.5" opacity="0.95"/>
</g>
<text x="496.55" y="516.4" text-anchor="middle" class="lb">Damage Size</text>
<text transform="translate(336.9 380) rotate(-90)" text-anchor="middle" class="lb">Damage Index</text>
<text x="360.4" y="272.1" style="font-size:10.4px">&#215;</text>
<text transform="translate(368.1 270.8) scale(0.94 1)" style="font-size:10.4px">10</text>
<text x="378.7" y="265.9" style="font-size:8.4px">-3</text>
<path d="M372 318.5H377.2M374.6 315.9V321.1" stroke="#3333ff" stroke-width="1" opacity="0.75"/>
<circle cx="374.6" cy="330.5" r="2.8" fill="none" stroke="#ff2a2a" stroke-width="0.9"/>
<text transform="translate(389.4 321.8) scale(1 1.14)" class="lg2">Janapati et al. 2016</text>
<text transform="translate(389.4 333.8) scale(1 1.14)" class="lg2">Qiu et al. 2016</text>
<text x="368.3" y="292.6" class="pl">d</text>
</svg>
</div></body></html>
